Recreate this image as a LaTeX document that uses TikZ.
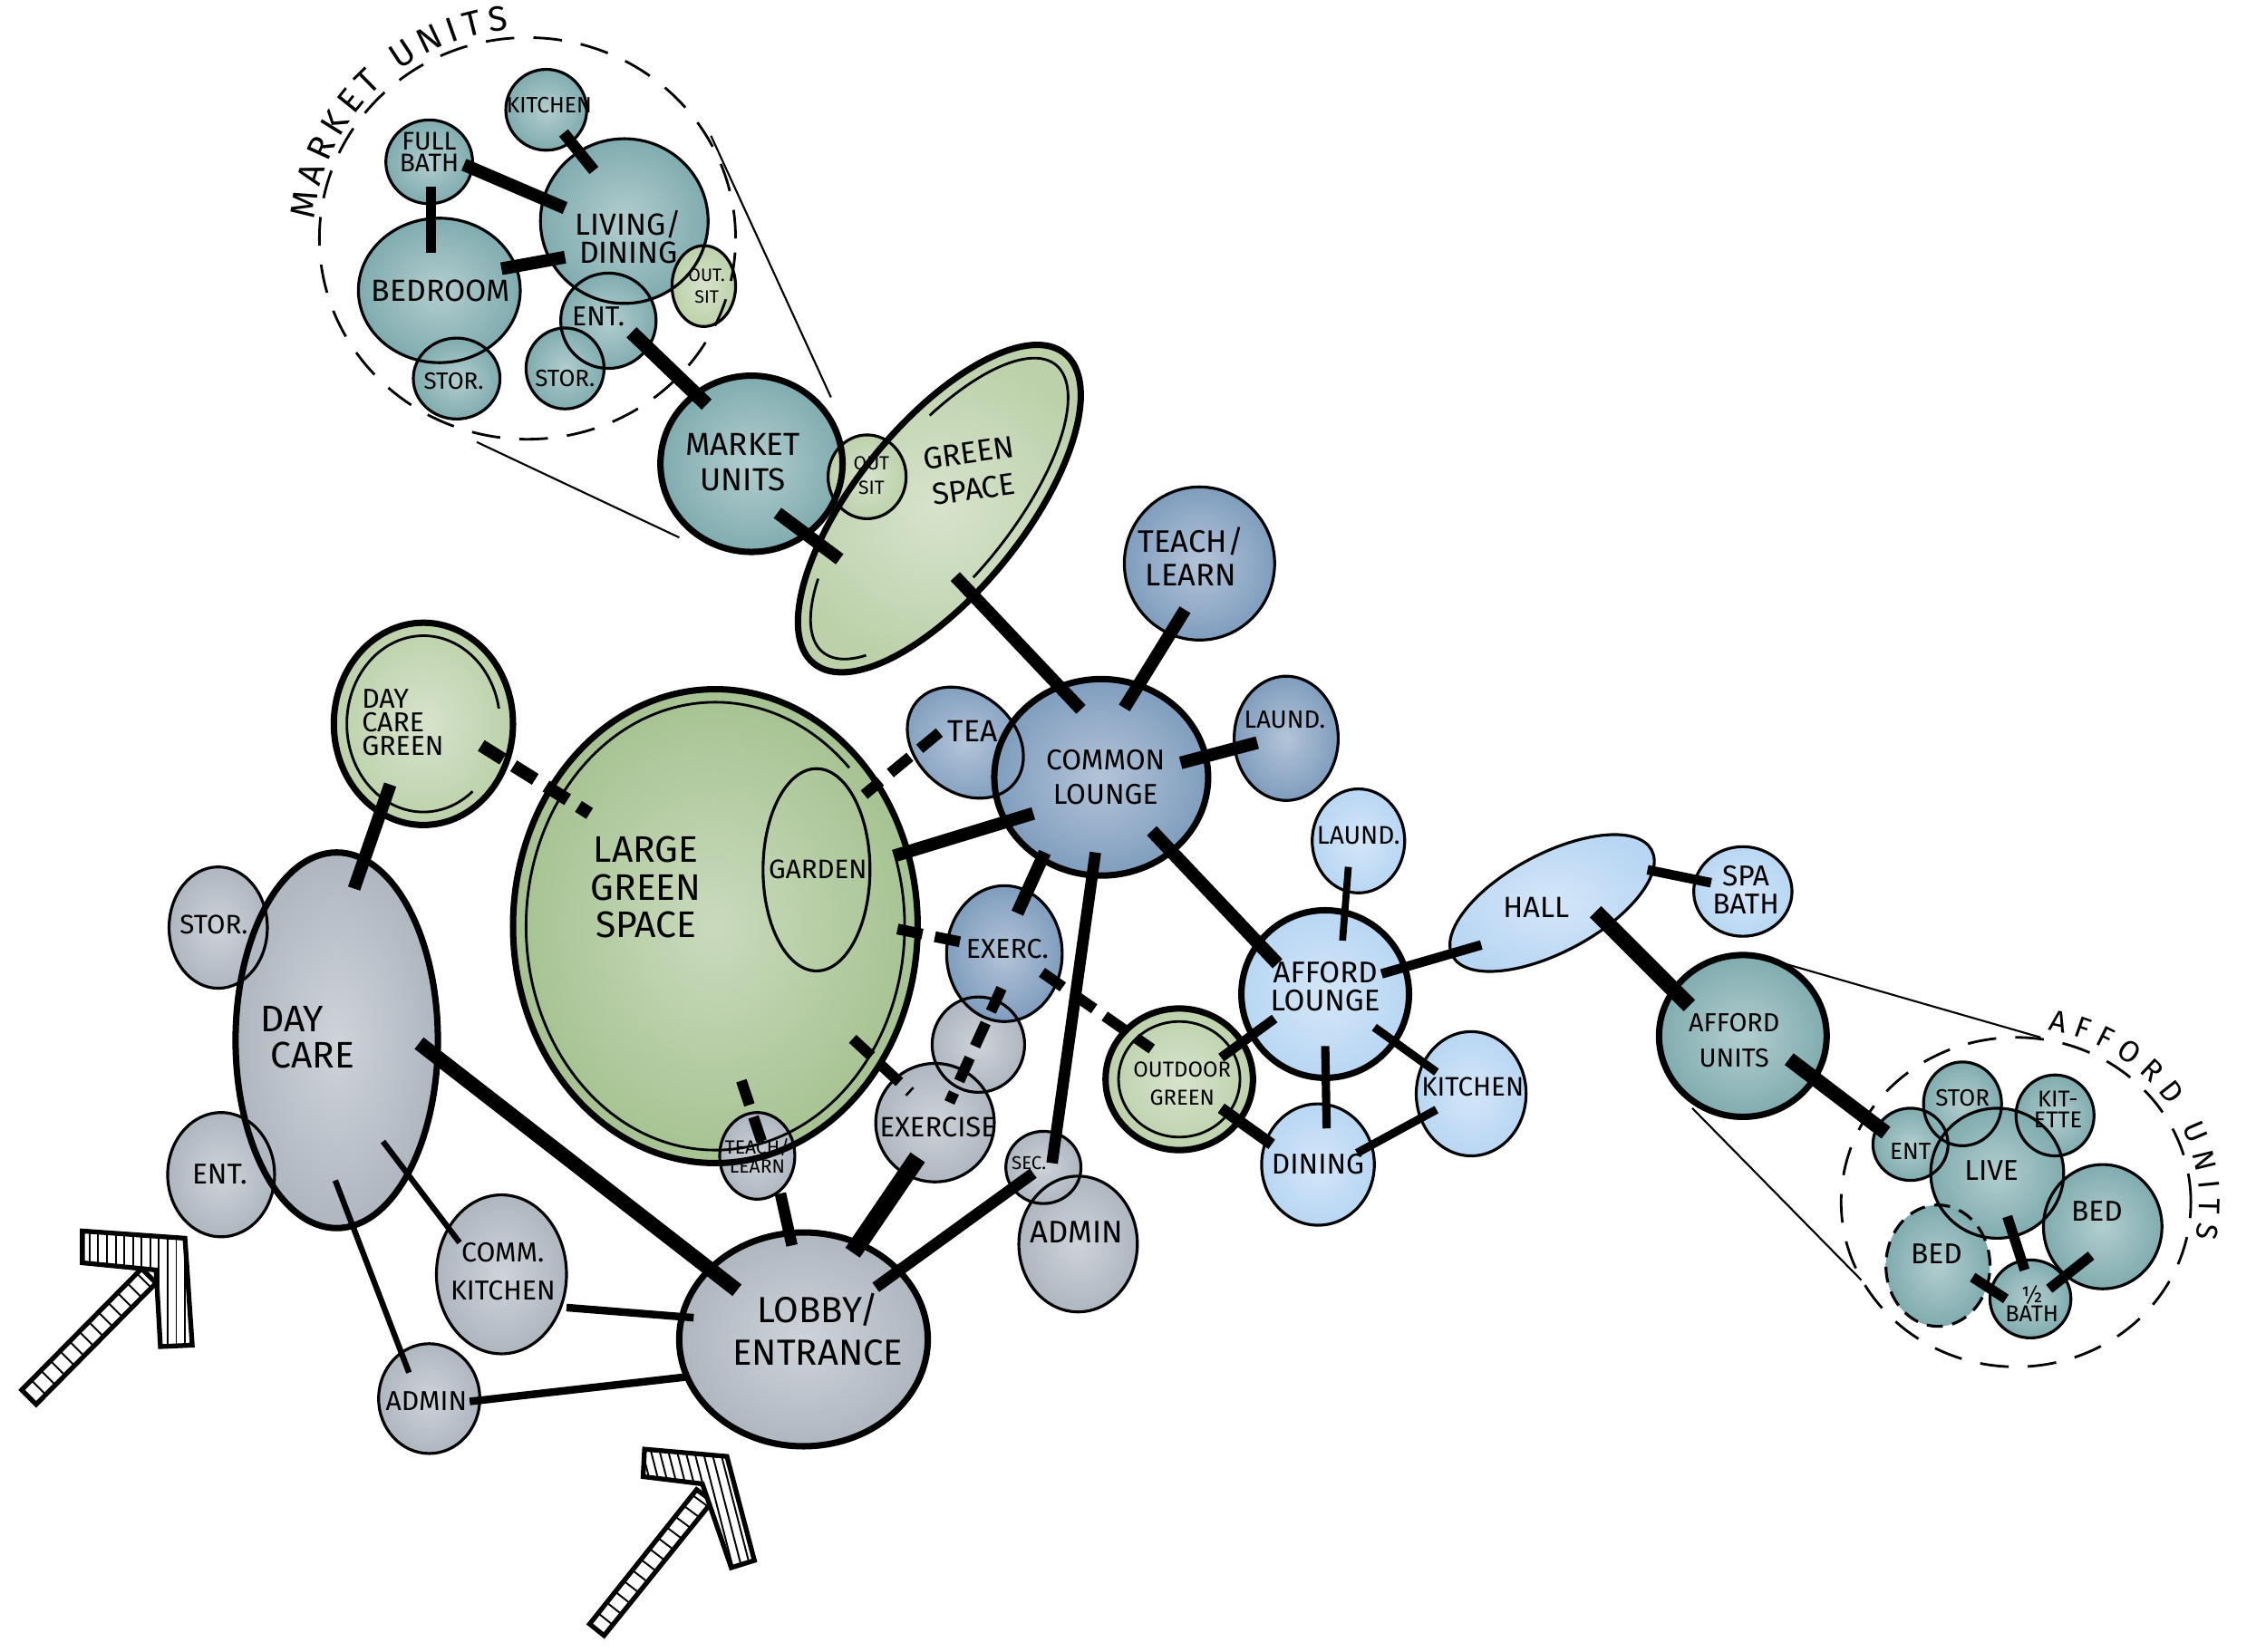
\documentclass[tikz,border=0pt]{standalone}
\usepackage{fontspec}
\setmainfont{Fira Sans}
\usetikzlibrary{shapes.geometric,calc,decorations.text}
\pgfdeclarelayer{bg}
\pgfsetlayers{bg,main}
\newlength\unitpx
\setlength\unitpx{0.015944cm}
\definecolor{cTeal}{RGB}{128,172,175}
\definecolor{cGreen}{RGB}{166,194,145}
\definecolor{cLGreen}{RGB}{188,209,170}
\definecolor{cBlue}{RGB}{128,157,190}
\definecolor{cLBlue}{RGB}{184,214,243}
\definecolor{cGray}{RGB}{174,182,192}
\newcommand\fs[2]{\fontsize{#1}{#2}\selectfont}
\newcommand\fM{\fontsize{11}{12}\selectfont}
\newcommand\fN{\fontsize{9.4}{10}\selectfont}
\tikzset{
  bubline/.style={ellipse, draw, inner sep=0pt, outer sep=0pt, line width=0.9pt},
  thickline/.style={line width=2pt},
  lab/.style={align=center, inner sep=0pt},
  dbar/.style={line width=#1, dash pattern=on 8pt off 4pt},
  zoomline/.style={line width=0.6pt},
  bigdash/.style={ellipse, draw, inner sep=0pt, line width=0.8pt, dash pattern=on 9pt off 6pt},
  hatch/.style={line width=0.55pt},
  arrowout/.style={line width=1.5pt, line join=miter, fill=white},
  innerline/.style={line width=0.8pt},
}
% optional style, name, x, y(screen), rx, ry, angle, colour
\newcommand\Bub[8][]{%
  \begin{pgfonlayer}{bg}
    \shade[inner color=#8!60!white, outer color=#8, rotate around={#7:(#3,-#4)}] (#3,-#4) ellipse[x radius=#5, y radius=#6];
  \end{pgfonlayer}
  \node[bubline, rotate=#7, minimum width=2*#5*\unitpx, minimum height=2*#6*\unitpx, #1] (#2) at (#3,-#4) {};
}
\newcommand\Lab[5][]{\node[lab,#1] (#2) at (#3,-#4) {#5};}
\newcommand\Conn[5]{\draw[#1] ($(#2)+(#3)$) -- ($(#4)+(#5)$);}

\begin{document}
\begin{tikzpicture}[x=\unitpx,y=\unitpx]
\begin{pgfonlayer}{bg}\fill[white] (0,0) rectangle (1568,-1143);\end{pgfonlayer}
\useasboundingbox (0,0) rectangle (1568,-1143);

% ---------- market units inset ----------
\node[bigdash, minimum width=288*\unitpx, minimum height=278*\unitpx] (mdash) at (365,-165) {};
\Bub{kit1}{378}{76}{28}{28}{0}{cTeal}
\Bub{fb}{297}{112}{30}{29}{0}{cTeal}
\Bub{liv}{432}{153}{58}{57}{0}{cTeal}
\Bub{bed1}{304}{201}{56}{50}{0}{cTeal}
\Bub{os1}{487}{198}{22}{28}{0}{cLGreen}
\Bub{ent1}{421}{222}{33}{33}{0}{cTeal}
\Bub{st1r}{391}{255}{27}{28}{0}{cTeal}
\Bub{st1l}{316}{262}{30}{28}{0}{cTeal}

% ---------- main diagram ----------
\Bub[thickline]{gs}{650}{352}{138}{58}{51}{cLGreen}
\Bub[thickline]{mu}{520}{321}{63}{61}{0}{cTeal}
\Bub{os2}{600}{330}{27}{29}{0}{cLGreen}
\Bub{tl1}{830}{390}{52}{53}{0}{cBlue}
\Bub{tea}{668}{514}{44}{34}{-40}{cBlue}
\Bub[thickline]{cl}{762}{538}{74}{68}{0}{cBlue}
\Bub{la1}{890}{511}{36}{43}{0}{cBlue}
\Bub[thickline]{dcg}{293}{501}{62}{70}{0}{cLGreen}
\Bub[thickline]{lg}{495}{641}{140}{164}{0}{cGreen}
\node[bubline, minimum width=74*\unitpx, minimum height=140*\unitpx] (gar) at (565,-602) {};
\Bub{gry}{677}{723}{32}{33}{0}{cGray}
\Bub{ex1}{695}{660}{40}{47}{0}{cBlue}
\Bub{ex2}{647}{777}{41}{41}{0}{cGray}
\Bub{st2}{151}{642}{34}{42}{0}{cGray}
\Bub{ent2}{153}{813}{37}{43}{0}{cGray}
\Bub[thickline]{dc}{233}{720}{70}{130}{0}{cGray}
\Bub{ck}{347}{882}{45}{55}{0}{cGray}
\Bub{ad1}{297}{968}{35}{38}{0}{cGray}
\Bub{tl2}{524}{800}{26}{30}{0}{cGray}
\Bub[thickline]{lob}{556}{927}{86}{74}{0}{cGray}
\Bub{ad2}{746}{861}{41}{47}{0}{cGray}
\Bub{sec}{722}{808}{26}{25}{0}{cGray}
\Bub{la2}{940}{582}{32}{36}{0}{cLBlue}
\Bub[thickline]{al}{917}{688}{58}{58}{0}{cLBlue}
\Bub[thickline]{og}{816}{747}{51}{49}{0}{cLGreen}
\Bub{din}{912}{806}{39}{42}{0}{cLBlue}
\Bub{kit2}{1018}{757}{38}{43}{0}{cLBlue}
\Bub{hall}{1074}{625}{78}{34}{28}{cLBlue}
\Bub{spa}{1206}{617}{34}{31}{0}{cLBlue}
\Bub[thickline]{au}{1206}{717}{58}{56}{0}{cTeal}

% ---------- afford units inset ----------
\node[bigdash, minimum width=242*\unitpx, minimum height=228*\unitpx] (adash) at (1395,-832) {};
\Bub{ent3}{1322}{792}{26}{25}{0}{cTeal}
\Bub{st3}{1358}{764}{27}{29}{0}{cTeal}
\Bub{ke}{1422}{772}{27}{28}{0}{cTeal}
\Bub{live}{1382}{812}{46}{45}{0}{cTeal}
\Bub{bed3}{1455}{849}{41}{43}{0}{cTeal}
\Bub[dash pattern=on 5pt off 3pt]{bed2}{1341}{876}{36}{42}{0}{cTeal}
\Bub{hb}{1405}{899}{28}{27}{0}{cTeal}

% ---------- inner second outlines ----------
\begin{scope}[shift={(495,-641)}]
  \draw[innerline] (45:131 and 155) arc[start angle=45, end angle=380, x radius=131, y radius=155];
\end{scope}
\begin{scope}[shift={(293,-501)}]
  \draw[innerline] (10:53 and 61) arc[start angle=10, end angle=310, x radius=53, y radius=61];
\end{scope}
\draw[innerline] (og.center) ellipse[x radius=42, y radius=40];
\begin{scope}[shift={(650,-352)}, rotate=51]
  \draw[innerline] (69:128 and 49) arc[start angle=69, end angle=-100, x radius=128, y radius=49];
  \draw[innerline] (135:128 and 49) arc[start angle=135, end angle=210, x radius=128, y radius=49];
\end{scope}

% ---------- connectors ----------
\Conn{line width=3.6pt}{kit1}{12,-16}{liv}{-21,35}
\Conn{line width=4pt}{fb}{24,-2}{liv}{-41,9}
\Conn{line width=3.2pt}{fb}{1,-17}{bed1}{-6,26}
\Conn{line width=4pt}{bed1}{43,15}{liv}{-41,-25}
\Conn{line width=4.5pt}{ent1}{16,-8}{mu}{-31,41}
\Conn{line width=4pt}{mu}{18,-34}{gs}{-69,-35}
\Conn{line width=4pt}{gs}{11,-47}{cl}{-14,47}
\Conn{line width=4pt}{tl1}{-10,-32}{cl}{16,48}
\Conn{line width=4pt}{la1}{-20,-3}{cl}{55,10}
\Conn{dbar=3.4pt}{tea}{-18,7}{lg}{103,91}
\Conn{line width=4pt}{cl}{-47,-25}{lg}{125,49}
\Conn{line width=4pt}{cl}{-39,-52}{ex1}{9,28}
\Conn{line width=3.6pt}{cl}{-4,-52}{sec}{6,3}
\Conn{line width=4.2pt}{cl}{35,-37}{al}{-33,21}
\Conn{dbar=3.4pt}{lg}{126,-2}{ex1}{-30,8}
\Conn{dbar=3.4pt}{lg}{95,-78}{ex2}{-17,21}
\Conn{dbar=3.4pt}{ex1}{-2,-24}{ex2}{10,14}
\Conn{dbar=3.4pt}{ex1}{26,-13}{og}{-19,21}
\Conn{line width=5.5pt}{ex2}{-12,-24}{lob}{34,60}
\Conn{line width=3.6pt}{sec}{-7,-4}{lob}{50,36}
\Conn{line width=4pt}{dcg}{-23,-42}{dc}{12,105}
\Conn{dbar=4pt}{dcg}{40,-15}{lg}{-87,78}
\Conn{line width=4.6pt}{dc}{57,-2}{lob}{-46,34}
\Conn{line width=1.8pt}{dc}{32,-70}{ck}{-29,22}
\Conn{line width=1.8pt}{dc}{-1,-97}{ad1}{-14,18}
\Conn{line width=2.4pt}{ck}{45,-23}{lob}{-76,15}
\Conn{line width=2.4pt}{ad1}{28,-2}{lob}{-81,-26}
\Conn{dbar=3.4pt}{lg}{18,-107}{tl2}{3,10}
\Conn{line width=3.6pt}{tl2}{16,-26}{lob}{-8,65}
\Conn{line width=2.2pt}{la2}{-7,-18}{al}{12,37}
\Conn{line width=3pt}{al}{-35,-17}{og}{29,15}
\Conn{line width=3.6pt}{og}{29,-20}{din}{-32,14}
\Conn{line width=2.6pt}{al}{0,-36}{din}{6,25}
\Conn{line width=2.6pt}{al}{34,-23}{kit2}{-24,15}
\Conn{line width=2.6pt}{din}{27,8}{kit2}{-24,-11}
\Conn{line width=3pt}{al}{39,14}{hall}{-49,-29}
\Conn{line width=3pt}{hall}{66,23}{spa}{-22,6}
\Conn{line width=5pt}{hall}{30,-6}{au}{-37,21}
\Conn{line width=4.6pt}{au}{32,-16}{ent3}{-17,8}
\Conn{line width=3.2pt}{live}{7,-30}{hb}{-4,20}
\Conn{line width=3.2pt}{bed2}{24,-8}{hb}{-17,0}
\Conn{line width=3.2pt}{bed3}{-8,-20}{hb}{13,7}
\Conn{zoomline}{mdash}{127,71}{mu}{55,46}
\Conn{zoomline}{mdash}{-35,-141}{mu}{-50,-51}
\Conn{zoomline}{au}{29,50}{adash}{17,114}
\Conn{zoomline}{au}{-35,-50}{adash}{-107,-54}

% ---------- labels ----------
\Lab[font=\fs{7}{8}]{t-kit1}{380}{73}{KITCHEN}
\Lab[font=\fs{8}{6.8}]{t-fb}{297}{105}{FULL\\BATH}
\Lab[font=\fs{9.6}{8.8}]{t-liv}{435}{164}{LIVING/\\DINING}
\Lab[font=\fs{9.6}{10}]{t-bed1}{305}{201}{BEDROOM}
\Lab[font=\fs{5.6}{6.8}]{t-os1}{489}{198}{OUT.\\SIT}
\Lab[font=\fs{8.6}{9}]{t-ent1}{414}{219}{ENT.}
\Lab[font=\fs{7.4}{8}]{t-st1r}{391}{262}{STOR.}
\Lab[font=\fs{7.4}{8}]{t-st1l}{314}{264}{STOR.}
\Lab[font=\fs{10}{11.3}]{t-mu}{514}{320}{MARKET\\UNITS}
\Lab[font=\fs{6}{7.6}]{t-os2}{603}{329}{OUT\\SIT}
\Lab[font=\fs{9.6}{11.6}, rotate=8]{t-gs}{672}{326}{GREEN\\SPACE}
\Lab[font=\fs{9.8}{10.4}]{t-tl1}{824}{385}{TEACH/\\LEARN}
\Lab[font=\fs{9.6}{10}]{t-tea}{673}{506}{TEA}
\Lab[font=\fs{9}{10.8}]{t-cl}{765}{538}{COMMON\\LOUNGE}
\Lab[font=\fs{7.8}{8}]{t-la1}{889}{498}{LAUND.}
\Lab[font=\fs{8.6}{7.4}, align=left, anchor=west]{t-dcg}{250}{500}{DAY\\CARE\\GREEN}
\Lab[font=\fs{11.6}{11.8}]{t-lg}{447}{614}{LARGE\\GREEN\\SPACE}
\Lab[font=\fs{8.4}{9}]{t-gar}{566}{602}{GARDEN}
\Lab[font=\fs{8.6}{9}]{t-ex1}{697}{657}{EXERC.}
\Lab[font=\fs{8.8}{9}]{t-ex2}{649}{780}{EXERCISE}
\Lab[font=\fs{8.4}{9}]{t-st2}{148}{640}{STOR.}
\Lab[font=\fs{11.6}{11.3}, align=left, anchor=west]{t-dc}{180}{718}{DAY\\\hspace*{3pt}CARE}
\Lab[font=\fs{9}{9}]{t-ent2}{152}{813}{ENT.}
\Lab[font=\fs{8.6}{12.2}]{t-ck}{348}{880}{COMM.\\KITCHEN}
\Lab[font=\fs{8.6}{9}]{t-ad1}{295}{970}{ADMIN}
\Lab[font=\fs{6}{5.8}]{t-tl2}{524}{800}{TEACH/\\LEARN}
\Lab[font=\fs{11.4}{13.5}]{t-lob}{566}{920}{LOBBY/\\ENTRANCE}
\Lab[font=\fs{5.8}{6}]{t-sec}{712}{805}{SEC.}
\Lab[font=\fs{9.8}{10}]{t-ad2}{745}{853}{ADMIN}
\Lab[font=\fs{8}{8}]{t-la2}{940}{578}{LAUND.}
\Lab[font=\fs{9.4}{8.8}]{t-al}{917}{683}{AFFORD\\LOUNGE}
\Lab[font=\fs{6.8}{9}]{t-og}{818}{750}{OUTDOOR\\GREEN}
\Lab[font=\fs{9}{9}]{t-din}{912}{806}{DINING}
\Lab[font=\fs{8.4}{9}]{t-kit2}{1019}{752}{KITCHEN}
\Lab[font=\fs{9.2}{10}]{t-hall}{1063}{628}{HALL}
\Lab[font=\fs{9}{8.8}]{t-spa}{1208}{616}{SPA\\BATH}
\Lab[font=\fs{8.2}{11.2}]{t-au}{1200}{720}{AFFORD\\UNITS}
\Lab[font=\fs{7.4}{8}]{t-ent3}{1322}{797}{ENT}
\Lab[font=\fs{7.4}{8}]{t-st3}{1358}{760}{STOR}
\Lab[font=\fs{7.2}{6.6}]{t-ke}{1424}{768}{KIT-\\ETTE}
\Lab[font=\fs{9}{9}]{t-live}{1378}{810}{LIVE}
\Lab[font=\fs{9}{9}]{t-bed3}{1451}{838}{BED}
\Lab[font=\fs{9}{9}]{t-bed2}{1340}{868}{BED}
\Lab[font=\fs{7.2}{5.9}]{t-hb}{1406}{902}{½\\BATH}

% curved inset titles (text set along arcs outside the dashed outlines)
\path[decorate, decoration={text along path, text={|\fM|MARKET UNITS}, text align={fit to path}}]
  (365,-165) ++(175:148 and 145) arc[start angle=175, end angle=95, x radius=148, y radius=145];
\path[decorate, decoration={text along path, text={|\fN|AFFORD UNITS}, text align={fit to path}}]
  (1395,-832) ++(80:127 and 121) arc[start angle=80, end angle=-12, x radius=127, y radius=121];

% ---------- entrance arrows ----------
\draw[arrowout] (98,-878) -- (108,-888) -- (25,-972) -- (15,-962) -- cycle;
\begin{scope}
  \clip (98,-878) -- (108,-888) -- (25,-972) -- (15,-962) -- cycle;
  \foreach \t in {0.04,0.12,...,1.0} \draw[hatch] ($(98,-878)!\t!(15,-962)$) -- ($(108,-888)!\t!(25,-972)$);
\end{scope}
\draw[arrowout] (128,-857) -- (57,-852) -- (57,-874) -- (108,-879) -- (111,-932) -- (133,-931) -- cycle;
\begin{scope}
  \clip (128,-857) -- (57,-852) -- (57,-874) -- (108,-879) -- (111,-932) -- (133,-931) -- cycle;
  \foreach \x in {62,68,...,134} \draw[hatch] (\x,-845) -- (\x,-940);
\end{scope}

\draw[arrowout] (482,-1031) -- (493,-1039) -- (418,-1132) -- (408,-1124) -- cycle;
\begin{scope}
  \clip (482,-1031) -- (493,-1039) -- (418,-1132) -- (408,-1124) -- cycle;
  \foreach \t in {0.04,0.12,...,1.0} \draw[hatch] ($(482,-1031)!\t!(408,-1124)$) -- ($(493,-1039)!\t!(418,-1132)$);
\end{scope}
\draw[arrowout] (503,-1008) -- (446,-1003) -- (445,-1022) -- (486,-1027) -- (506,-1085) -- (522,-1080) -- cycle;
\begin{scope}
  \clip (503,-1008) -- (446,-1003) -- (445,-1022) -- (486,-1027) -- (506,-1085) -- (522,-1080) -- cycle;
  \foreach \x in {430,436,...,530} \draw[hatch] (\x,-995) -- (\x+25,-1092);
\end{scope}
\end{tikzpicture}
\end{document}
